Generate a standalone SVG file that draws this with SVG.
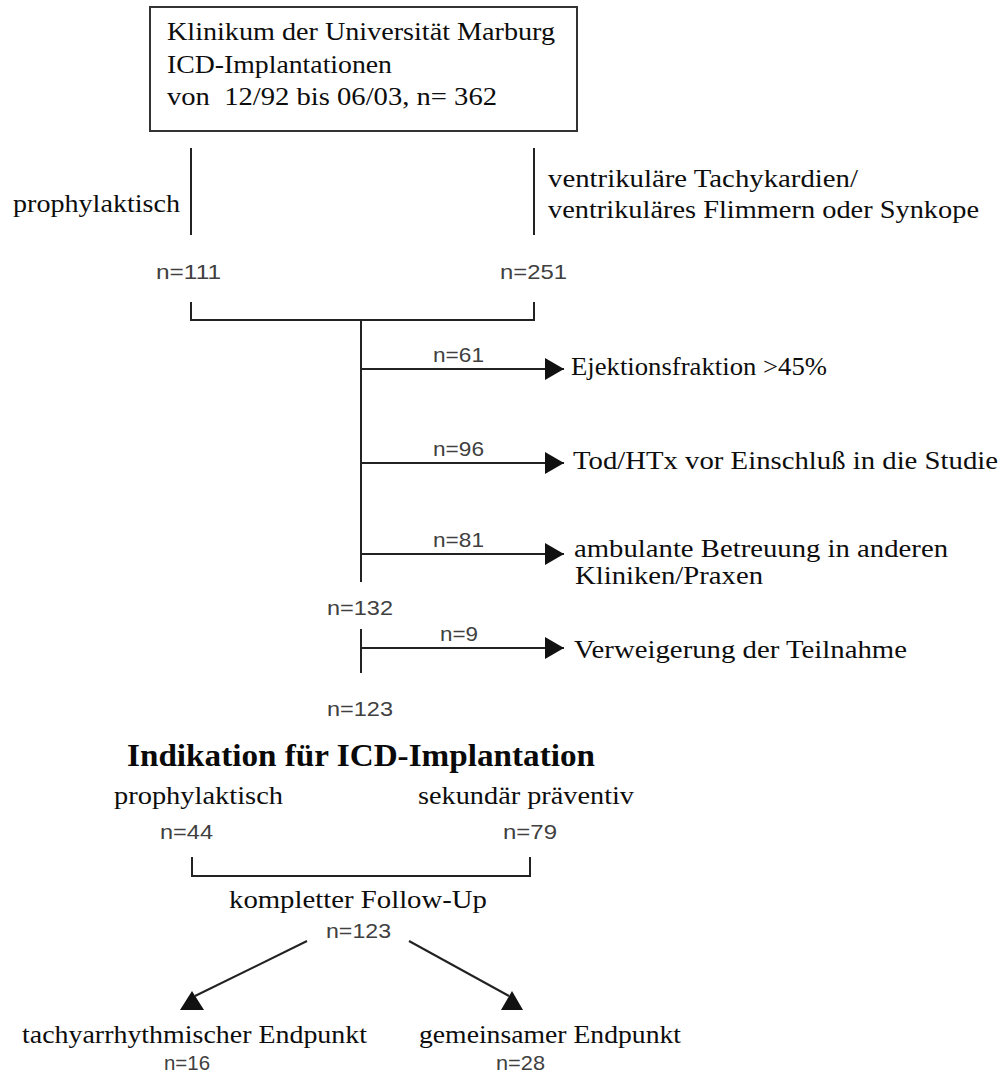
<svg xmlns="http://www.w3.org/2000/svg" width="1002" height="1075" viewBox="0 0 1002 1075">
<style>
.s{font-family:"Liberation Serif","Times New Roman",serif;font-size:26px;fill:#0d0d0d}
.b{font-family:"Liberation Serif","Times New Roman",serif;font-size:32px;font-weight:bold;fill:#0a0a0a}
.n{font-family:"Liberation Sans",Arial,sans-serif;font-size:21px;fill:#404040}
.l{stroke:#222;stroke-width:2;fill:none}
.h{fill:#111}
</style>
<defs>
<marker id="ah" markerUnits="userSpaceOnUse" markerWidth="20" markerHeight="22" refX="19" refY="11" orient="auto">
<path d="M0,0 L19,11 L0,22 z" fill="#111"/>
</marker>
</defs>
<rect width="1002" height="1075" fill="#fff"/>
<g id="connectors">
<path class="l" d="M191,148 V235"/>
<path class="l" d="M534,148 V235"/>
<path class="l" d="M191,302 V320 H534 V302"/>
<path class="l" d="M361,320 V582"/>
<path class="l" d="M361,629 V673"/>
<path class="l" d="M361,369 H564" marker-end="url(#ah)"/>
<path class="l" d="M361,463 H564" marker-end="url(#ah)"/>
<path class="l" d="M361,554 H564" marker-end="url(#ah)"/>
<path class="l" d="M361,648 H564" marker-end="url(#ah)"/>
<path class="l" d="M192,857 V876 H530 V857"/>
<path class="l" d="M307,941 L195,996"/>
<polygon class="h" points="192,991 180,1010 204,1010"/>
<path class="l" d="M409,941 L509,996"/>
<polygon class="h" points="512,991 501,1010 523,1010"/>
</g>
<g id="start">
<rect x="150" y="7" width="427" height="124" fill="#fff" stroke="#333" stroke-width="2"/>
<text class="s" x="167" y="40" textLength="388" lengthAdjust="spacingAndGlyphs">Klinikum der Universität Marburg</text>
<text class="s" x="167" y="73" textLength="225" lengthAdjust="spacingAndGlyphs">ICD-Implantationen</text>
<text class="s" x="167" y="105" textLength="330" lengthAdjust="spacingAndGlyphs" xml:space="preserve">von  12/92 bis 06/03, n= 362</text>
</g>
<g id="prophylaktisch1">
<text class="s" x="13" y="212" textLength="167" lengthAdjust="spacingAndGlyphs">prophylaktisch</text>
<text class="n" x="156" y="279" textLength="65" lengthAdjust="spacingAndGlyphs">n=111</text>
</g>
<g id="ventrikulaer">
<text class="s" x="548" y="187" textLength="310" lengthAdjust="spacingAndGlyphs">ventrikuläre Tachykardien/</text>
<text class="s" x="548" y="218" textLength="431" lengthAdjust="spacingAndGlyphs">ventrikuläres Flimmern oder Synkope</text>
<text class="n" x="500" y="279" textLength="67" lengthAdjust="spacingAndGlyphs">n=251</text>
</g>
<g id="excl-ef">
<text class="n" x="433" y="362" textLength="51" lengthAdjust="spacingAndGlyphs">n=61</text>
<text class="s" x="571" y="375" textLength="256" lengthAdjust="spacingAndGlyphs">Ejektionsfraktion &gt;45%</text>
</g>
<g id="excl-tod">
<text class="n" x="433" y="456" textLength="51" lengthAdjust="spacingAndGlyphs">n=96</text>
<text class="s" x="573" y="469" textLength="425" lengthAdjust="spacingAndGlyphs">Tod/HTx vor Einschluß in die Studie</text>
</g>
<g id="excl-amb">
<text class="n" x="433" y="547" textLength="51" lengthAdjust="spacingAndGlyphs">n=81</text>
<text class="s" x="574" y="557" textLength="374" lengthAdjust="spacingAndGlyphs">ambulante Betreuung in anderen</text>
<text class="s" x="575" y="584" textLength="188" lengthAdjust="spacingAndGlyphs">Kliniken/Praxen</text>
</g>
<g id="n132">
<text class="n" x="327" y="615" textLength="66" lengthAdjust="spacingAndGlyphs">n=132</text>
</g>
<g id="excl-verw">
<text class="n" x="440" y="641" textLength="38" lengthAdjust="spacingAndGlyphs">n=9</text>
<text class="s" x="574" y="658" textLength="333" lengthAdjust="spacingAndGlyphs">Verweigerung der Teilnahme</text>
</g>
<g id="n123">
<text class="n" x="327" y="716" textLength="66" lengthAdjust="spacingAndGlyphs">n=123</text>
</g>
<g id="indikation">
<text class="b" x="127" y="766" textLength="468" lengthAdjust="spacingAndGlyphs">Indikation für ICD-Implantation</text>
</g>
<g id="prophylaktisch2">
<text class="s" x="114" y="804" textLength="169" lengthAdjust="spacingAndGlyphs">prophylaktisch</text>
<text class="n" x="160" y="839" textLength="53" lengthAdjust="spacingAndGlyphs">n=44</text>
</g>
<g id="sekundaer">
<text class="s" x="418" y="804" textLength="216" lengthAdjust="spacingAndGlyphs">sekundär präventiv</text>
<text class="n" x="503" y="839" textLength="54" lengthAdjust="spacingAndGlyphs">n=79</text>
</g>
<g id="followup">
<text class="s" x="229" y="908" textLength="258" lengthAdjust="spacingAndGlyphs">kompletter Follow-Up</text>
<text class="n" x="326" y="938" textLength="65" lengthAdjust="spacingAndGlyphs">n=123</text>
</g>
<g id="tachy">
<text class="s" x="22" y="1043" textLength="345" lengthAdjust="spacingAndGlyphs">tachyarrhythmischer Endpunkt</text>
<text class="n" x="164" y="1070" textLength="46" lengthAdjust="spacingAndGlyphs">n=16</text>
</g>
<g id="gemeinsam">
<text class="s" x="419" y="1043" textLength="262" lengthAdjust="spacingAndGlyphs">gemeinsamer Endpunkt</text>
<text class="n" x="496" y="1070" textLength="49" lengthAdjust="spacingAndGlyphs">n=28</text>
</g>
</svg>
